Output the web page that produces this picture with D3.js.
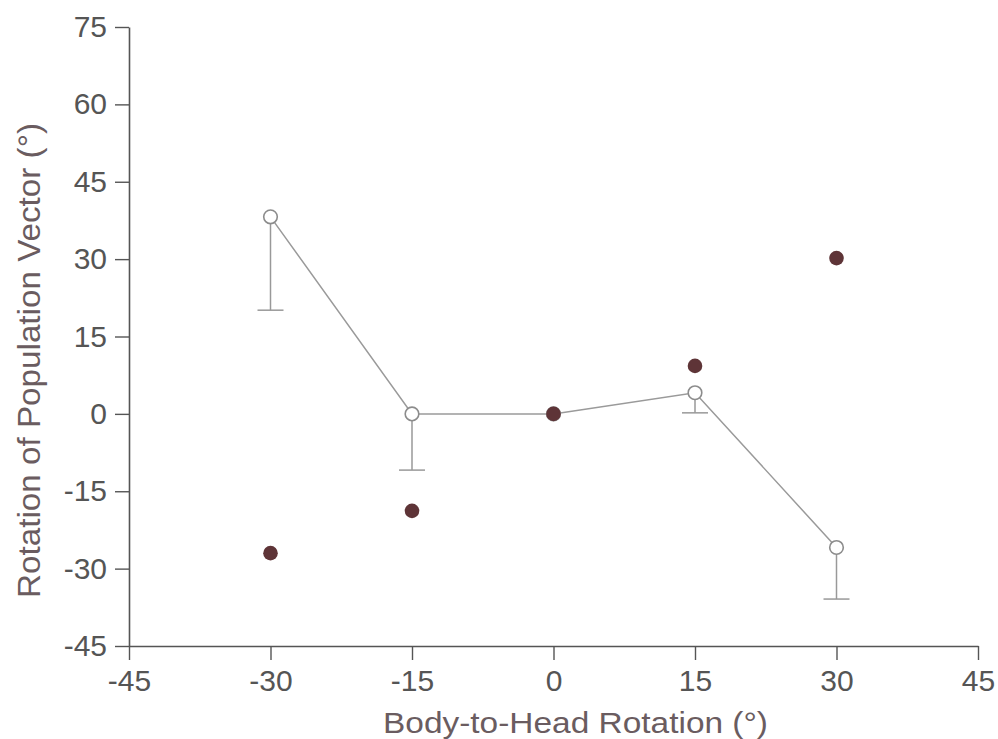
<!DOCTYPE html>
<html>
<head>
<meta charset="utf-8">
<script src="https://cdn.jsdelivr.net/npm/d3@7"></script>
<style>
  html, body { margin: 0; padding: 0; background: #fff; }
  svg { display: block; font-family: 'Liberation Sans', Arial, sans-serif; }
</style>
</head>
<body>
<svg id="chart"></svg>
<script>
(function() {

  // body-to-head rotation conditions
  var rotations = [-30, -15, 0, 15, 30];
  // population vector rotation, mean (open circles) and lower error end
  var meanShift = [38.2, 0, 0, 4.1, -25.9];
  var errLow = [20.1, -10.9, null, 0.2, -35.9];
  // filled dots
  var cellShift = [-27.0, -18.8, 0, 9.3, 30.2];

  var xTicks = [-45, -30, -15, 0, 15, 30, 45];
  var yTicks = [-45, -30, -15, 0, 15, 30, 45, 60, 75];

  var WIDTH = 998;
  var HEIGHT = 739;
  var axisColor = '#555';
  var titleColor = '#6a5c60';

  var svg = d3.select('#chart')
    .attr('width', WIDTH)
    .attr('height', HEIGHT);

  var x = d3.scaleLinear().domain([-45, 45]).range([129, 978]);
  var y = d3.scaleLinear().domain([-45, 75]).range([646, 27]);

  // plain hyphen for negatives, like the original
  var fmt = function(d) { return String(d); };

  var xAxis = svg.append('g')
    .attr('transform', 'translate(0,' + y(-45) + ')')
    .call(d3.axisBottom(x).tickValues(xTicks).tickFormat(fmt).tickSize(14).tickSizeOuter(0).tickPadding(10));

  var yAxis = svg.append('g')
    .attr('transform', 'translate(' + x(-45) + ',0)')
    .call(d3.axisLeft(y).tickValues(yTicks).tickFormat(fmt).tickSize(14).tickSizeOuter(0).tickPadding(8));

  [xAxis, yAxis].forEach(function(a) {
    a.select('.domain').attr('stroke', axisColor).attr('stroke-width', 1.6);
    a.selectAll('.tick line').attr('stroke', axisColor).attr('stroke-width', 1.4);
    a.selectAll('.tick text')
      .attr('fill', axisColor)
      .style('font-size', '30px')
      .style('font-family', "'Liberation Sans', Arial, sans-serif");
  });

  // axis titles
  svg.append('text')
    .attr('x', 383)
    .attr('y', 733)
    .attr('fill', titleColor)
    .attr('textLength', 385)
    .attr('lengthAdjust', 'spacingAndGlyphs')
    .style('font-size', '30px')
    .text('Body-to-Head Rotation (°)');

  svg.append('text')
    .attr('transform', 'translate(40,598) rotate(-90)')
    .attr('fill', titleColor)
    .attr('textLength', 475)
    .attr('lengthAdjust', 'spacingAndGlyphs')
    .style('font-size', '31px')
    .text('Rotation of Population Vector (°)');

  var idx = d3.range(rotations.length);

  // error bars (downward)
  var bars = svg.append('g')
    .selectAll('g')
    .data(idx.filter(function(i) { return errLow[i] !== null; }))
    .enter().append('g');

  bars.append('line')
    .attr('x1', function(i) { return x(rotations[i]); })
    .attr('x2', function(i) { return x(rotations[i]); })
    .attr('y1', function(i) { return y(meanShift[i]); })
    .attr('y2', function(i) { return y(errLow[i]); })
    .attr('stroke', '#999')
    .attr('stroke-width', 1.5);

  bars.append('line')
    .attr('x1', function(i) { return x(rotations[i]) - 13; })
    .attr('x2', function(i) { return x(rotations[i]) + 13; })
    .attr('y1', function(i) { return y(errLow[i]); })
    .attr('y2', function(i) { return y(errLow[i]); })
    .attr('stroke', '#999')
    .attr('stroke-width', 1.5);

  // connecting line
  var line = d3.line()
    .x(function(i) { return x(rotations[i]); })
    .y(function(i) { return y(meanShift[i]); });

  svg.append('path')
    .datum(idx)
    .attr('d', line)
    .attr('fill', 'none')
    .attr('stroke', '#9a9a9a')
    .attr('stroke-width', 1.5);

  // open circles
  svg.append('g')
    .selectAll('circle')
    .data(idx)
    .enter().append('circle')
    .attr('cx', function(i) { return x(rotations[i]); })
    .attr('cy', function(i) { return y(meanShift[i]); })
    .attr('r', 6.8)
    .attr('fill', '#fff')
    .attr('stroke', '#8c8c8c')
    .attr('stroke-width', 1.6);

  // filled dots
  svg.append('g')
    .selectAll('circle')
    .data(idx)
    .enter().append('circle')
    .attr('cx', function(i) { return x(rotations[i]); })
    .attr('cy', function(i) { return y(cellShift[i]); })
    .attr('r', 7.3)
    .attr('fill', '#5e3437');

})();
</script>
</body>
</html>
